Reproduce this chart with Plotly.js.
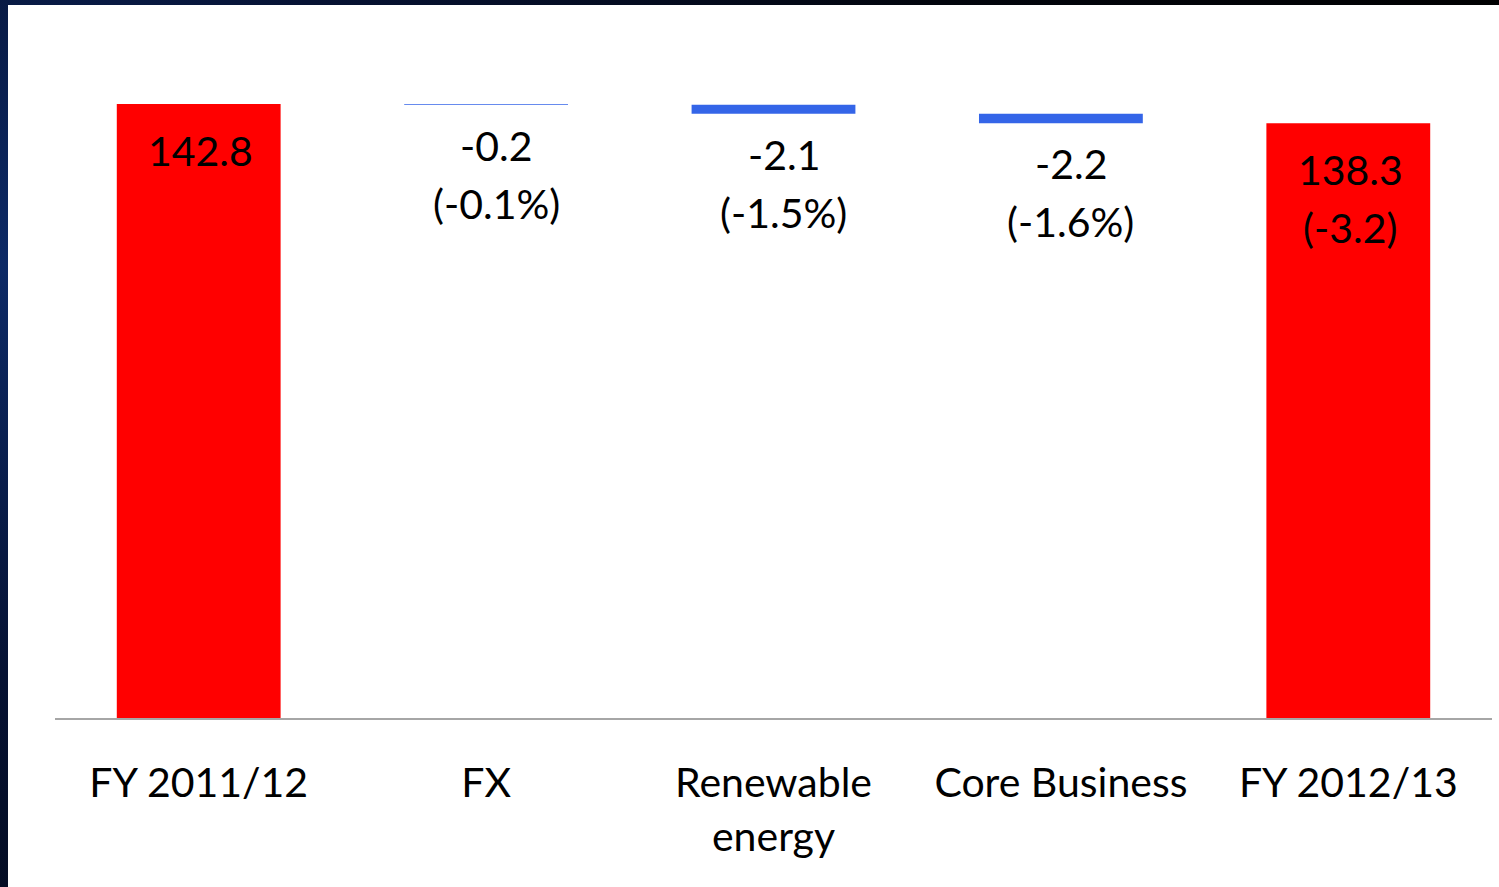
<!DOCTYPE html>
<html>
<head>
<meta charset="utf-8">
<script src="https://cdn.plot.ly/plotly-3.0.1.min.js"></script>
<style>
  html, body { margin: 0; padding: 0; }
  body {
    width: 1499px; height: 887px; overflow: hidden;
    background: radial-gradient(circle at 0% 30%, #0d2a66 0%, #061233 25%, #02050d 60%, #000 100%);
  }
  #chart { position: absolute; left: 8px; top: 5px; width: 1491px; height: 882px; background: #fff; }
</style>
</head>
<body>
<div id="chart"></div>
<script>
// Revenue bridge: FY 2011/12 to FY 2012/13
const categories = ["FY 2011/12", "FX", "Renewable energy", "Core Business", "FY 2012/13"];
const tickLabels = ["FY 2011/12", "FX", "Renewable<br>energy", "Core Business", "FY 2012/13"];
const measures   = ["absolute", "relative", "relative", "relative", "total"];
const values     = [142.8, -0.2, -2.1, -2.2, 138.3];
const valueLabels  = ["142.8", "-0.2", "-2.1", "-2.2", "138.3"];
const changeLabels = ["", "(-0.1%)", "(-1.5%)", "(-1.6%)", "(-3.2)"];

const RED = "#ff0000";
const BLUE = "#3465e8";
const FONT = "Lato, 'Open Sans', sans-serif";
const LINE_STEP = 58;

const trace = {
  type: "waterfall",
  x: categories,
  y: values,
  measure: measures,
  textinfo: "none",
  hoverinfo: "skip",
  connector: { visible: false },
  totals: { marker: { color: RED } },
  increasing: { marker: { color: RED } },
  decreasing: { marker: { color: BLUE } },
  showlegend: false
};

// Labels: inside the top of total bars, below the end of change bars
const annotations = [];
let running = 0;
values.forEach((v, i) => {
  const m = measures[i];
  if (m === "absolute") running = v;
  else if (m === "relative") running += v;
  const isTotal = m !== "relative";
  const base = {
    x: categories[i],
    y: running,
    xref: "x", yref: "y",
    showarrow: false,
    yanchor: "top",
    xanchor: "center",
    xshift: isTotal ? 2 : 10,
    font: { family: FONT, size: 41, color: "#000" }
  };
  const shift0 = isTotal ? -20 : -14;
  annotations.push(Object.assign({}, base, { text: valueLabels[i], yshift: shift0 }));
  if (changeLabels[i]) {
    annotations.push(Object.assign({}, base, { text: changeLabels[i], yshift: shift0 - LINE_STEP }));
  }
});

const layout = {
  width: 1491,
  height: 882,
  margin: { l: 47, r: 7, t: 68, b: 169 },
  paper_bgcolor: "#ffffff",
  plot_bgcolor: "#ffffff",
  waterfallgap: 0.43,
  font: { family: FONT, size: 41, color: "#000" },
  xaxis: {
    type: "category",
    tickvals: categories,
    ticktext: tickLabels,
    tickangle: 0,
    showline: true,
    linecolor: "#a6a6a6",
    linewidth: 2,
    ticks: "",
    ticklabelstandoff: 28,
    showgrid: false,
    zeroline: false,
    tickfont: { family: FONT, size: 41, color: "#000" }
  },
  yaxis: {
    range: [0, 150],
    visible: false,
    showgrid: false,
    zeroline: false
  },
  annotations: annotations
};

Plotly.newPlot("chart", [trace], layout, { staticPlot: true, displayModeBar: false });
</script>
</body>
</html>
